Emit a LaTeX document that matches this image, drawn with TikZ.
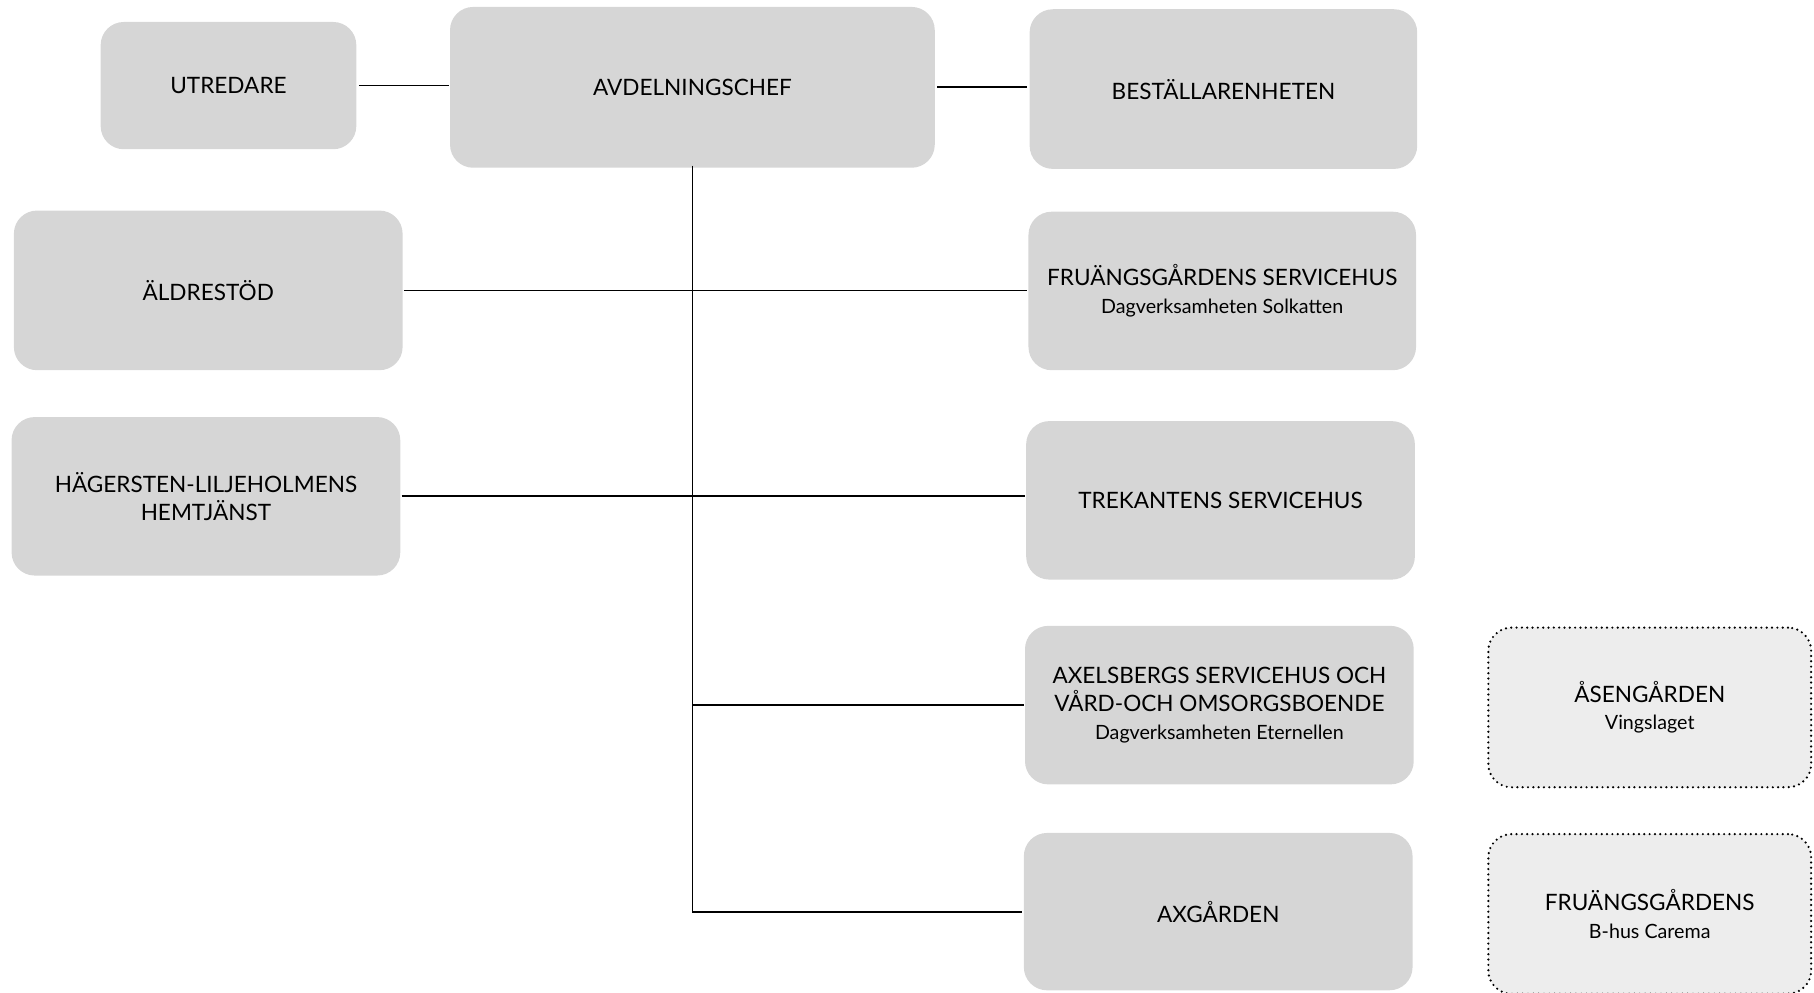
\documentclass[tikz,border=0pt]{standalone}
\usepackage{fontspec}
\setmainfont{Lato}
\definecolor{boxgray}{HTML}{D6D6D6}
\definecolor{boxlight}{HTML}{EDEDED}
\begin{document}
\begin{tikzpicture}[x=1pt,y=-1pt,
  unit/.style={fill=boxgray, rounded corners=20pt, align=center, inner sep=0pt,
    font=\fontsize{19.5}{23.8}\selectfont},
  extunit/.style={unit, fill=boxlight, draw=black, line width=2.1pt,
    dash pattern=on 0pt off 4.6pt, line cap=round},
  link/.style={line width=1.5pt}]
\useasboundingbox (0,0) rectangle (1568,858);
\newcommand{\subt}[1]{{\fontsize{17}{23.8}\selectfont #1}}
\node[unit, minimum width=221pt, minimum height=110pt] (utr) at (197.5,74) {UTREDARE};
\node[unit, minimum width=419pt, minimum height=139pt] (avd) at (598.5,75.5) {AVDELNINGSCHEF};
\node[unit, minimum width=335pt, minimum height=138pt] (bes) at (1057.5,77) {BESTÄLLARENHETEN};
\node[unit, minimum width=336pt, minimum height=138pt] (ald) at (180,251) {ÄLDRESTÖD};
\node[unit, minimum width=335pt, minimum height=137pt] (fru) at (1056.5,251.5) {FRUÄNGSGÅRDENS SERVICEHUS\\ \subt{Dagverksamheten Solkatten}};
\node[unit, minimum width=336pt, minimum height=137pt] (hag) at (178,429) {HÄGERSTEN-LILJEHOLMENS\\ HEMTJÄNST};
\node[unit, minimum width=336pt, minimum height=137pt] (tre) at (1055,432.5) {TREKANTENS SERVICEHUS};
\node[unit, minimum width=336pt, minimum height=137pt] (axe) at (1054,609.5) {AXELSBERGS SERVICEHUS OCH\\ VÅRD-OCH OMSORGSBOENDE\\ \subt{Dagverksamheten Eternellen}};
\node[unit, minimum width=336pt, minimum height=136pt] (axg) at (1053,788) {AXGÅRDEN};
\node[extunit, minimum width=279pt, minimum height=138pt] (ase) at (1426,611.5) {ÅSENGÅRDEN\\ \subt{Vingslaget}};
\node[extunit, minimum width=279pt, minimum height=138pt] (frb) at (1426,790) {FRUÄNGSGÅRDENS\\ \subt{B-hus Carema}};
\draw[link] ([xshift=2pt]utr.east) -- ([xshift=-1pt]utr.east -| avd.west);
\draw[link] ([xshift=2pt]avd.east) -- ([xshift=-2pt]avd.east -| bes.west);
\draw[link] ([xshift=1pt]ald.east) -- ([xshift=-1pt]ald.east -| fru.west);
\draw[link] ([xshift=1pt]hag.east) -- ([xshift=-1pt]hag.east -| tre.west);
\draw[link] ([yshift=2pt]avd.south) -- (avd.south |- axg.west) -- ([xshift=-1pt]axg.west);
\draw[link] (avd.south |- axe.west) -- ([xshift=-1pt]axe.west);
\end{tikzpicture}
\end{document}
